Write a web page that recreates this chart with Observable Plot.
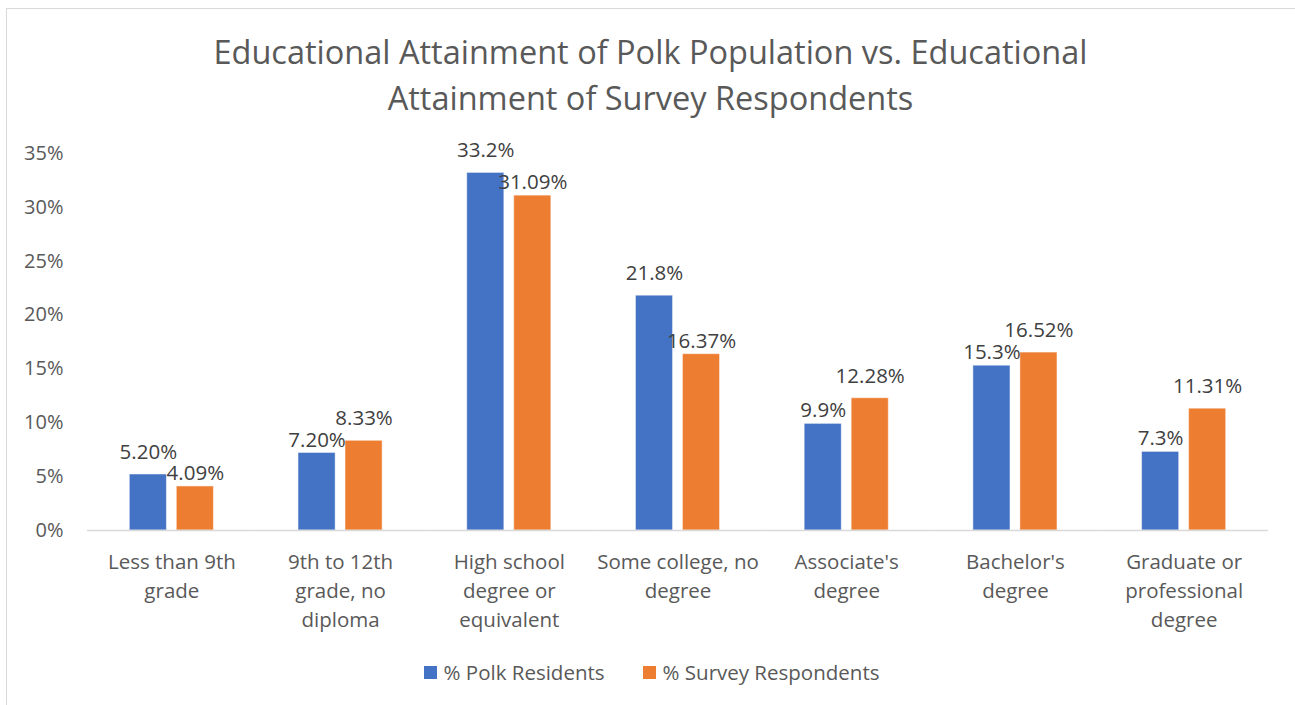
<!DOCTYPE html>
<html>
<head>
<meta charset="utf-8">
<script src="https://cdn.jsdelivr.net/npm/d3@7"></script>
<script src="https://cdn.jsdelivr.net/npm/@observablehq/plot@0.6"></script>
<style>
  html, body { margin: 0; padding: 0; background: #fff; width: 1295px; height: 705px; overflow: hidden; font-family: "Open Sans", sans-serif; }
  #frame { position: absolute; left: 6px; top: 8px; width: 1300px; height: 720px; border: 1px solid #d9d9d9; box-sizing: border-box; }
  #title { position: absolute; left: 6px; width: 1289px; top: 29px; text-align: center; font-size: 32.5px; line-height: 46px; color: #595959; }
  #chart { position: absolute; left: 0; top: 120px; }
  #legend { position: absolute; top: 658px; left: 0; width: 1295px; display: flex; justify-content: center; gap: 38px; font-size: 20.5px; color: #595959; padding-left: 8px; box-sizing: border-box; }
  .item { display: flex; align-items: center; gap: 7px; }
  .sw { width: 13px; height: 13px; display: inline-block; }
</style>
</head>
<body>
<div id="frame"></div>
<div id="title">Educational Attainment of Polk Population vs. Educational<br>Attainment of Survey Respondents</div>
<div id="chart"></div>
<div id="legend"></div>
<script>
const categories = ["Less than 9th grade", "9th to 12th grade, no diploma", "High school degree or equivalent", "Some college, no degree", "Associate's degree", "Bachelor's degree", "Graduate or professional degree"];
const categoryLabels = ["Less than 9th\ngrade", "9th to 12th\ngrade, no\ndiploma", "High school\ndegree or\nequivalent", "Some college, no\ndegree", "Associate's\ndegree", "Bachelor's\ndegree", "Graduate or\nprofessional\ndegree"];
const series = ["% Polk Residents", "% Survey Respondents"];
const polk = [5.20, 7.20, 33.2, 21.8, 9.9, 15.3, 7.3];
const polkLabels = ["5.20%", "7.20%", "33.2%", "21.8%", "9.9%", "15.3%", "7.3%"];
const survey = [4.09, 8.33, 31.09, 16.37, 12.28, 16.52, 11.31];
const surveyLabels = ["4.09%", "8.33%", "31.09%", "16.37%", "12.28%", "16.52%", "11.31%"];
const yTicks = [0, 5, 10, 15, 20, 25, 30, 35];
const colors = ["#4472C4", "#ED7D31"];

const data = [];
categories.forEach((c, i) => {
  data.push({category: c, series: series[0], value: polk[i], label: polkLabels[i], taller: polk[i] >= survey[i]});
  data.push({category: c, series: series[1], value: survey[i], label: surveyLabels[i], taller: survey[i] > polk[i]});
});
const labelOf = new Map(categories.map((c, i) => [c, categoryLabels[i]]));

const font = "'Open Sans', sans-serif";
const textOpts = {fx: "category", x: "series", y: "value", text: "label", fontSize: 20.5, fill: "#404040"};
const chart = Plot.plot({
  width: 1295,
  height: 530,
  marginLeft: 87,
  marginRight: 27,
  marginTop: 33,
  marginBottom: 120,
  style: {fontFamily: font, background: "transparent", overflow: "visible"},
  fx: {domain: categories, padding: 0, round: false, label: null},
  x: {domain: series, paddingInner: 0.21, paddingOuter: 0.9, round: false, axis: null},
  y: {domain: [0, 35], label: null},
  color: {domain: series, range: colors},
  marks: [
    Plot.axisY({ticks: yTicks, tickFormat: d => d + "%", tickSize: 0, tickPadding: 24, fontSize: 20, fill: "#595959", label: null}),
    Plot.axisFx({anchor: "bottom", tickSize: 0, tickPadding: 18, fontSize: 20.5, fill: "#595959", lineHeight: 1.42, tickFormat: d => labelOf.get(d), label: null}),
    Plot.barY(data, {fx: "category", x: "series", y: "value", fill: "series", stroke: "#ffffff", strokeOpacity: 0.5, strokeWidth: 1, insetLeft: 0, insetRight: 0}),
    Plot.ruleY([0], {stroke: "#d9d9d9", strokeWidth: 1.5}),
    Plot.text(data.filter(d => d.taller), {...textOpts, dy: -22}),
    Plot.text(data.filter(d => !d.taller), {...textOpts, dy: -13})
  ]
});
document.getElementById("chart").appendChild(chart);

const legend = document.getElementById("legend");
series.forEach((s, i) => {
  const item = document.createElement("div");
  item.className = "item";
  const sw = document.createElement("span");
  sw.className = "sw";
  sw.style.background = colors[i];
  const t = document.createElement("span");
  t.textContent = s;
  item.appendChild(sw);
  item.appendChild(t);
  legend.appendChild(item);
});
</script>
</body>
</html>
